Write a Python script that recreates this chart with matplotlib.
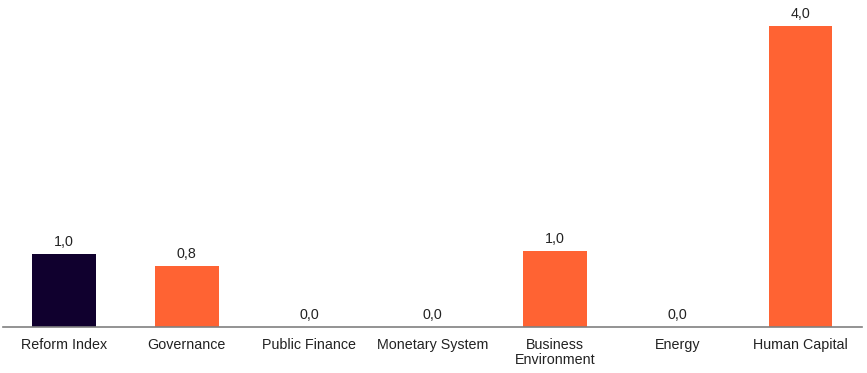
import matplotlib
matplotlib.use("Agg")
import matplotlib.pyplot as plt
import numpy as np

categories = ["Reform Index", "Governance", "Public Finance", "Monetary System",
              "Business\nEnvironment", "Energy", "Human Capital"]
values = [0.97, 0.81, 0.0, 0.0, 1.01, 0.0, 4.0]
colors = ["#10002e", "#ff6333", "#ff6333", "#ff6333", "#ff6333", "#ff6333", "#ff6333"]

plt.rcParams["font.family"] = ["Liberation Sans", "DejaVu Sans"]

fig = plt.figure(figsize=(8.67, 3.73), dpi=100)
ax = fig.add_axes([0.003, 0.123, 0.991, 0.877])

x = np.arange(len(categories))
ax.bar(x, values, width=0.52, color=colors)

for xi, v in zip(x, values):
    label = "{:.1f}".format(v).replace(".", ",")
    ax.text(xi, v + 0.07, label, ha="center", va="bottom", fontsize=10.3, color="#222222")

ax.set_xlim(-0.5, 6.5)
ax.set_ylim(0, 4.35)
ax.set_xticks(x)
ax.set_xticklabels(categories, fontsize=10.3, color="#222222", linespacing=1.1)
ax.tick_params(axis="x", length=0, pad=7.5)
ax.set_yticks([])
for side in ["top", "right", "left"]:
    ax.spines[side].set_visible(False)
ax.spines["bottom"].set_color("#808080")
ax.spines["bottom"].set_linewidth(1.2)

fig.savefig("out.png", dpi=100)
